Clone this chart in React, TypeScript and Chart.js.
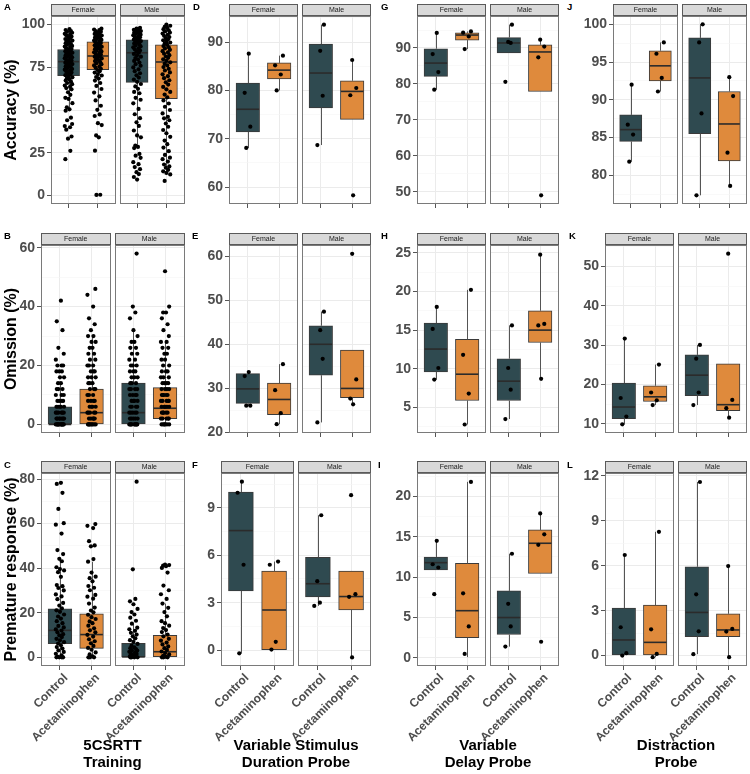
import React, { useEffect, useRef } from 'react';
import { Chart, registerables } from 'chart.js';

Chart.register(...registerables);

const FONT = "'Liberation Sans', Arial, Helvetica, sans-serif";
Chart.defaults.font.family = FONT;

// ---------------- text ----------------
const SEXES = ['Female', 'Male'];
const TREATMENTS = ['Control', 'Acetaminophen'];
const ROW_TITLES = ['Accuracy (%)', 'Omission (%)', 'Premature response (%)'];
const COLUMN_TITLES = [
  ['5CSRTT', 'Training'],
  ['Variable Stimulus', 'Duration Probe'],
  ['Variable', 'Delay Probe'],
  ['Distraction', 'Probe'],
];

// ---------------- axis ranges & major ticks ----------------
const A_RANGE = [-5, 105];
const A_TICKS = [0, 25, 50, 75, 100];
const B_RANGE = [-2.9, 60.9];
const B_TICKS = [0, 20, 40, 60];
const C_RANGE = [-3.9, 82.7];
const C_TICKS = [0, 20, 40, 60, 80];
const D_RANGE = [56.5, 95.4];
const D_TICKS = [60, 70, 80, 90];
const E_RANGE = [19.9, 62.5];
const E_TICKS = [20, 30, 40, 50, 60];
const F_RANGE = [-1.0, 11.2];
const F_TICKS = [0, 3, 6, 9];
const G_RANGE = [46.6, 98.9];
const G_TICKS = [50, 60, 70, 80, 90];
const H_RANGE = [1.7, 26.0];
const H_TICKS = [5, 10, 15, 20, 25];
const I_RANGE = [-1.0, 22.9];
const I_TICKS = [0, 5, 10, 15, 20];
const J_RANGE = [76.2, 101.1];
const J_TICKS = [80, 85, 90, 95, 100];
const K_RANGE = [7.7, 55.5];
const K_TICKS = [10, 20, 30, 40, 50];
const L_RANGE = [-0.7, 12.2];
const L_TICKS = [0, 3, 6, 9, 12];

// ---------------- box statistics ----------------
// [lower whisker, Q1, median, Q3, upper whisker] for
// Female-Control, Female-Acetaminophen, Male-Control, Male-Acetaminophen
const A_BOXES = [[49.6, 70.1, 78.3, 85.4, 97.4], [50.1, 73.6, 81.6, 89.9, 97.6], [29.2, 66.2, 83.5, 91.1, 98.0], [12.3, 56.7, 78.1, 88.2, 100.0]];
const B_BOXES = [[0, 0, 0, 6, 14], [0, 0, 4, 12, 30], [0, 0, 4, 14, 32], [0, 2, 5.5, 12.5, 28]];
const C_BOXES = [[0, 6.1, 12.1, 21.7, 44.2], [0, 4.0, 10.2, 19.5, 42.9], [0, 0, 0.2, 6.3, 15.1], [0, 0.3, 2.5, 9.9, 24.1]];
const D_BOXES = [[68.1, 71.4, 76.1, 81.5, 87.6], [80.0, 82.4, 84.2, 85.7, 87.2], [68.7, 76.4, 83.6, 89.6, 93.6], [74.0, 74.0, 79.8, 82.0, 86.3]];
const E_BOXES = [[26.0, 26.6, 29.9, 33.35, 33.8], [21.9, 24.05, 27.5, 31.2, 35.5], [22.3, 33.0, 40.0, 44.2, 47.4], [26.4, 27.9, 30.0, 38.7, 38.7]];
const F_BOXES = [[-0.2, 3.75, 7.56, 10.0, 10.65], [0.04, 0.04, 2.54, 5.0, 5.6], [2.8, 3.37, 4.2, 5.87, 8.53], [-0.46, 2.54, 3.39, 5.0, 5.0]];
const G_BOXES = [[78.4, 82.1, 85.8, 89.8, 94.2], [89.7, 92.2, 93.6, 94.2, 94.6], [88.6, 88.6, 91.4, 92.9, 96.5], [77.9, 77.9, 88.9, 90.9, 92.3]];
const H_BOXES = [[8.6, 9.6, 12.55, 15.9, 18.0], [2.8, 5.9, 9.3, 13.8, 20.2], [3.5, 5.9, 8.4, 11.3, 15.6], [8.7, 13.4, 15.0, 17.5, 24.75]];
const I_BOXES = [[10.9, 10.9, 11.8, 12.5, 14.5], [0.1, 2.5, 5.85, 11.7, 21.8], [1.4, 2.9, 5.0, 8.3, 12.9], [10.45, 10.45, 14.2, 15.85, 17.9]];
const J_BOXES = [[81.8, 84.5, 86.05, 88.0, 92.0], [91.1, 92.5, 94.5, 96.5, 97.6], [77.35, 85.5, 92.9, 98.2, 100.0], [78.6, 81.9, 86.8, 91.1, 93.0]];
const K_BOXES = [[9.9, 11.35, 14.3, 20.4, 31.7], [14.8, 15.7, 16.9, 19.7, 25.1], [14.8, 17.2, 22.4, 27.55, 30.1], [11.6, 13.4, 14.9, 25.3, 25.3]];
const L_BOXES = [[0, 0, 1.04, 3.17, 6.72], [-0.11, 0, 0.88, 3.37, 8.27], [0.09, 1.26, 2.88, 5.93, 11.6], [-0.11, 1.26, 1.71, 2.79, 5.98]];

// ---------------- individual animals (points) ----------------
const A_FC = [97.4, 96.8, 96.1, 95.9, 95.2, 94.6, 94.1, 93.8, 93.0, 92.7, 92.2, 91.5, 91.1, 90.6, 90.0, 89.7, 89.1, 88.6, 88.2, 87.5, 87.1, 86.8, 86.2, 85.7, 85.3, 84.9, 84.4, 83.8, 83.5, 83.0, 82.6, 82.1, 81.7, 81.2, 80.8, 80.3, 79.9, 79.4, 79.0, 78.6, 78.1, 77.7, 77.2, 76.9, 76.3, 75.8, 75.5, 74.9, 74.4, 74.0, 73.6, 73.1, 72.5, 72.0, 71.6, 70.9, 70.4, 69.8, 69.1, 68.5, 67.9, 67.2, 66.6, 65.8, 65.1, 64.3, 63.6, 62.8, 62.1, 60.4, 58.9, 57.1, 56.5, 54.0, 51.6, 50.4, 49.6, 45.5, 44.0, 41.8, 40.6, 39.9, 38.5, 34.5, 33.2, 26.1, 21.2];
const A_FA = [97.6, 97.1, 96.7, 96.2, 95.8, 95.3, 95.0, 94.5, 94.1, 93.6, 93.2, 92.8, 92.3, 91.9, 91.4, 91.0, 90.6, 90.1, 89.7, 89.2, 88.8, 88.3, 87.9, 87.4, 87.0, 86.5, 86.1, 85.6, 85.2, 84.7, 84.3, 83.8, 83.4, 82.9, 82.5, 82.0, 81.6, 81.1, 80.6, 80.2, 79.7, 79.1, 78.6, 78.0, 77.4, 76.8, 76.1, 75.5, 74.8, 74.1, 73.4, 72.6, 71.9, 71.0, 70.2, 69.3, 68.4, 67.2, 65.8, 64.1, 62.3, 60.2, 58.0, 55.6, 52.5, 50.1, 47.4, 46.5, 42.3, 41.2, 35.1, 34.0, 26.2, 0.4, 0.3];
const A_MC = [98.0, 97.6, 97.3, 96.9, 96.6, 96.2, 95.9, 95.5, 95.2, 94.8, 94.4, 94.1, 93.7, 93.3, 92.9, 92.5, 92.1, 91.7, 91.2, 90.8, 90.3, 89.8, 89.4, 88.9, 88.3, 87.8, 87.2, 86.7, 86.1, 85.5, 84.8, 84.1, 83.5, 82.8, 82.0, 81.2, 80.4, 79.6, 78.7, 77.8, 76.8, 75.9, 74.9, 73.8, 72.7, 71.5, 70.3, 69.0, 67.8, 66.5, 65.2, 63.8, 62.4, 60.6, 59.8, 57.1, 56.0, 53.9, 50.6, 47.5, 45.2, 42.8, 40.7, 38.0, 35.1, 34.0, 29.2, 28.4, 27.7, 24.3, 23.3, 22.0, 19.5, 18.3, 16.6, 15.4, 13.6, 12.5, 10.8, 9.3];
const A_MA = [100.0, 99.3, 98.6, 98.0, 97.3, 96.6, 96.0, 95.3, 94.7, 94.0, 93.4, 92.7, 92.1, 91.4, 90.8, 90.1, 89.5, 88.8, 88.1, 87.4, 86.7, 86.0, 85.2, 84.4, 83.7, 82.9, 82.1, 81.3, 80.5, 79.7, 78.8, 77.9, 77.0, 76.1, 75.1, 74.1, 73.1, 72.0, 70.9, 69.8, 68.6, 67.4, 66.2, 64.9, 63.5, 62.1, 60.6, 59.0, 57.4, 55.6, 53.8, 51.9, 50.0, 48.0, 46.0, 45.1, 44.0, 42.1, 40.2, 38.3, 36.4, 34.3, 32.1, 30.0, 28.0, 25.9, 23.7, 22.1, 21.2, 19.8, 18.1, 17.0, 16.2, 15.0, 14.1, 13.2, 12.3, 8.5];

const B_FC = [42, 35, 32, 26, 24, 22, 20, 20, 20, 18, 18, 18, 16, 16, 14, 14, 12, 12, 12, 10, 10, 10, 8, 8, 8, 8, 6, 6, 6, 6, 6, 4, 4, 4, 4, 4, 4, 2, 2, 2, 2, 2, 2, 2, 0, 0, 0, 0, 0, 0, 0, 0, 0, 0, 0, 0];
const B_FA = [46, 44, 40, 36, 34, 32, 30, 30, 28, 28, 26, 26, 24, 24, 22, 22, 20, 20, 20, 18, 18, 18, 16, 16, 16, 14, 14, 14, 12, 12, 12, 10, 10, 10, 8, 8, 8, 8, 6, 6, 6, 6, 4, 4, 4, 4, 4, 2, 2, 2, 2, 2, 0, 0, 0, 0, 0, 0, 0, 0];
const B_MC = [58, 40, 38, 36, 32, 30, 28, 28, 26, 26, 24, 24, 22, 22, 20, 20, 20, 18, 18, 18, 16, 16, 16, 14, 14, 14, 12, 12, 12, 12, 10, 10, 10, 10, 8, 8, 8, 8, 6, 6, 6, 6, 4, 4, 4, 4, 4, 2, 2, 2, 2, 2, 0, 0, 0, 0, 0, 0, 0, 0, 0];
const B_MA = [52, 40, 38, 38, 36, 34, 32, 30, 28, 28, 26, 26, 24, 24, 22, 22, 20, 20, 18, 18, 18, 16, 16, 16, 14, 14, 14, 14, 12, 12, 12, 12, 10, 10, 10, 10, 10, 8, 8, 8, 8, 8, 6, 6, 6, 6, 6, 4, 4, 4, 4, 4, 2, 2, 2, 2, 2, 0, 0, 0, 0, 0, 0];

const C_FC = [78.3, 77.8, 73.8, 66.6, 60.2, 59.5, 55.5, 48.1, 46.3, 44.2, 43.1, 40.4, 39.6, 39.0, 38.2, 36.1, 32.4, 31.9, 31.1, 30.0, 28.2, 27.3, 26.1, 24.4, 23.2, 22.0, 21.1, 20.4, 19.2, 18.3, 17.4, 16.2, 15.3, 14.1, 13.4, 12.5, 12.0, 11.2, 10.4, 9.8, 9.1, 8.3, 7.6, 6.8, 6.2, 5.4, 4.6, 3.9, 3.1, 2.4, 1.6, 0.9, 0.3, 0.0, 0.0, 0.0, 0.0];
const C_FA = [59.8, 59.0, 58.0, 52.1, 50.2, 49.8, 44.1, 42.9, 38.0, 36.2, 35.5, 34.1, 32.0, 31.2, 30.1, 28.0, 27.2, 26.3, 24.1, 22.3, 21.0, 20.2, 19.1, 18.0, 17.2, 16.1, 15.3, 14.2, 13.0, 12.1, 11.2, 10.1, 9.3, 8.1, 7.2, 6.3, 5.1, 4.2, 3.4, 2.2, 1.3, 0.4, 0.0, 0.0, 0.0];
const C_MC = [78.8, 39.5, 26.2, 25.1, 23.8, 21.7, 20.3, 19.2, 17.8, 16.4, 15.1, 13.3, 12.6, 11.9, 11.0, 10.2, 9.4, 8.5, 7.7, 6.9, 6.0, 5.2, 4.5, 4.1, 3.7, 3.2, 3.0, 2.5, 2.2, 1.8, 1.5, 1.0, 0.8, 0.5, 0.3, 0.0, 0.0, 0.0, 0.0];
const C_MA = [41.6, 41.4, 41.2, 40.9, 40.1, 38.0, 32.2, 30.1, 28.3, 26.2, 24.1, 22.2, 20.3, 18.4, 16.2, 15.3, 14.2, 13.1, 12.2, 11.3, 10.2, 9.4, 8.3, 7.5, 6.6, 5.8, 4.9, 4.1, 3.3, 2.6, 1.9, 1.3, 0.7, 0.2, 0.0, 0.0, 0.0];

const D_FC = [87.6, 79.5, 72.5, 68.1];
const D_FA = [87.2, 85.2, 83.3, 80.0];
const D_MC = [93.6, 88.2, 78.9, 68.7];
const D_MA = [86.3, 80.5, 79.0, 58.3];
const E_FC = [33.7, 32.8, 26.1, 26.1];
const E_FA = [35.5, 29.6, 24.4, 21.9];
const E_MC = [47.4, 43.2, 36.7, 22.3];
const E_MA = [60.5, 32.05, 27.7, 26.4];
const F_FC = [10.65, 9.95, 5.4, -0.2];
const F_FA = [5.6, 5.4, 0.53, 0.04];
const F_MC = [8.53, 4.36, 3.0, 2.8];
const F_MA = [9.8, 3.54, 3.37, -0.46];
const G_FC = [94.2, 88.3, 83.3, 78.4];
const G_FA = [94.6, 94.25, 93.2, 89.7];
const G_MC = [96.5, 91.7, 91.4, 80.6];
const G_MA = [92.3, 90.4, 87.4, 49.0];
const H_FC = [18.0, 15.15, 10.1, 8.6];
const H_FA = [20.2, 11.8, 6.8, 2.8];
const H_MC = [15.6, 10.1, 7.3, 3.5];
const H_MA = [24.75, 15.8, 15.6, 8.7];
const I_FC = [14.5, 11.6, 11.2, 7.9];
const I_FA = [21.8, 8.0, 3.9, 0.5];
const I_MC = [12.9, 6.7, 3.9, 1.4];
const I_MA = [17.9, 15.3, 14.0, 2.0];
const J_FC = [92.0, 86.7, 85.4, 81.8];
const J_FA = [97.6, 96.1, 92.9, 91.1];
const J_MC = [100.0, 97.6, 88.2, 77.35];
const J_MA = [93.0, 90.5, 83.0, 78.6];
const K_FC = [31.7, 16.6, 11.9, 9.9];
const K_FA = [25.1, 18.0, 16.0, 14.8];
const K_MC = [30.1, 26.6, 18.0, 14.8];
const K_MA = [53.3, 16.1, 14.0, 11.6];
const L_FC = [6.72, 1.89, 0.16, 0.0];
const L_FA = [8.27, 1.75, 0.11, -0.11];
const L_MC = [11.6, 4.09, 1.62, 0.09];
const L_MA = [5.98, 1.78, 1.6, -0.11];

// ---------------- panels ----------------
type Panel = {
  letter: string; row: number; col: number;
  range: number[]; ticks: number[]; boxes: number[][]; points: number[][];
};
const PANELS: Panel[] = [
  { letter: 'A', row: 0, col: 0, range: A_RANGE, ticks: A_TICKS, boxes: A_BOXES, points: [A_FC, A_FA, A_MC, A_MA] },
  { letter: 'B', row: 1, col: 0, range: B_RANGE, ticks: B_TICKS, boxes: B_BOXES, points: [B_FC, B_FA, B_MC, B_MA] },
  { letter: 'C', row: 2, col: 0, range: C_RANGE, ticks: C_TICKS, boxes: C_BOXES, points: [C_FC, C_FA, C_MC, C_MA] },
  { letter: 'D', row: 0, col: 1, range: D_RANGE, ticks: D_TICKS, boxes: D_BOXES, points: [D_FC, D_FA, D_MC, D_MA] },
  { letter: 'E', row: 1, col: 1, range: E_RANGE, ticks: E_TICKS, boxes: E_BOXES, points: [E_FC, E_FA, E_MC, E_MA] },
  { letter: 'F', row: 2, col: 1, range: F_RANGE, ticks: F_TICKS, boxes: F_BOXES, points: [F_FC, F_FA, F_MC, F_MA] },
  { letter: 'G', row: 0, col: 2, range: G_RANGE, ticks: G_TICKS, boxes: G_BOXES, points: [G_FC, G_FA, G_MC, G_MA] },
  { letter: 'H', row: 1, col: 2, range: H_RANGE, ticks: H_TICKS, boxes: H_BOXES, points: [H_FC, H_FA, H_MC, H_MA] },
  { letter: 'I', row: 2, col: 2, range: I_RANGE, ticks: I_TICKS, boxes: I_BOXES, points: [I_FC, I_FA, I_MC, I_MA] },
  { letter: 'J', row: 0, col: 3, range: J_RANGE, ticks: J_TICKS, boxes: J_BOXES, points: [J_FC, J_FA, J_MC, J_MA] },
  { letter: 'K', row: 1, col: 3, range: K_RANGE, ticks: K_TICKS, boxes: K_BOXES, points: [K_FC, K_FA, K_MC, K_MA] },
  { letter: 'L', row: 2, col: 3, range: L_RANGE, ticks: L_TICKS, boxes: L_BOXES, points: [L_FC, L_FA, L_MC, L_MA] },
];

// ---------------- layout (pixels) ----------------
const ROW_Y = [[16, 204], [245, 433], [473, 666]];
const PANEL_X: Record<string, number[]> = {
  A: [51, 184], B: [41, 184], C: [41, 184],
  D: [229, 371], E: [229, 371], F: [221, 371],
  G: [417, 559], H: [417, 559], I: [417, 559],
  J: [613, 747], K: [605, 747], L: [605, 747],
};
const LETTER_POS: Record<string, number[]> = {
  A: [4, 3], D: [193, 3], G: [381, 3], J: [567, 3],
  B: [4, 232], E: [192, 232], H: [381, 232], K: [569, 232],
  C: [4, 461], F: [192, 461], I: [378, 461], L: [567, 461],
};
const FACET_GAP = 4;
const STRIP_H = 12;
const BOX_WIDTH_UNITS = 0.75;

// ---------------- styles ----------------
const CONTROL_FILL = '#2f4a50';
const ACET_FILL = '#df8a3c';
const BOX_LINE = '#3a3a3a';
const WHISKER = '#555555';
const MEDIAN = '#2b2b2b';
const GRID_MAJOR = '#ebebeb';
const GRID_MINOR = '#f5f5f5';
const TICK_TEXT = '#4d4d4d';
const TICK_MARK = '#555555';
const PANEL_BORDER = '#7a7a7a';
const STRIP_FILL = '#d9d9d9';
const STRIP_LINE = '#5a5a5a';
const JITTER = [0.03, -0.1, 0.08, -0.05, 0.12, -0.13, 0.05, -0.08, 0.1, -0.02, 0.06, -0.11, 0.0, 0.13, -0.06];

function minorTicks(majors: number[], lo: number, hi: number) {
  const d = majors[1] - majors[0];
  const ext = [majors[0] - d, ...majors, majors[majors.length - 1] + d];
  const out: number[] = [];
  for (let i = 0; i + 1 < ext.length; i++) {
    const m = (ext[i] + ext[i + 1]) / 2;
    if (m >= lo && m <= hi) out.push(m);
  }
  return out;
}

const boxExtras = {
  id: 'boxExtras',
  afterDatasetDraw(chart: any, args: any, o: any) {
    if (args.meta.type !== 'bar') return;
    const { ctx, scales } = chart;
    const y = scales.y;
    ctx.save();
    args.meta.data.forEach((bar: any, i: number) => {
      const [wl, q1, med, q3, wh] = o.stats[i];
      const cx = Math.round(bar.x) + 0.5;
      const half = bar.width / 2;
      ctx.strokeStyle = WHISKER;
      ctx.lineWidth = 1;
      ctx.beginPath();
      if (wh > q3) { ctx.moveTo(cx, y.getPixelForValue(q3)); ctx.lineTo(cx, y.getPixelForValue(wh)); }
      if (wl < q1) { ctx.moveTo(cx, y.getPixelForValue(q1)); ctx.lineTo(cx, y.getPixelForValue(wl)); }
      ctx.stroke();
      const my = y.getPixelForValue(med);
      ctx.strokeStyle = MEDIAN;
      ctx.lineWidth = 1.6;
      ctx.beginPath();
      ctx.moveTo(bar.x - half + 0.5, my);
      ctx.lineTo(bar.x + half - 0.5, my);
      ctx.stroke();
    });
    ctx.restore();
  },
};

const facetDeco = {
  id: 'facetDeco',
  beforeDatasetsDraw(chart: any, _args: any, o: any) {
    const { ctx, chartArea: a, scales } = chart;
    const x = scales.x;
    const f1r = x.getPixelForValue(2.6);
    const f2l = x.getPixelForValue(2.6 + o.gapU);
    ctx.save();
    ctx.fillStyle = '#ffffff';
    ctx.fillRect(f1r, a.top - 1, f2l - f1r, a.bottom - a.top + 2);
    const facets = [[a.left, f1r], [f2l, a.right]];
    facets.forEach(([l, r], i) => {
      ctx.strokeStyle = PANEL_BORDER;
      ctx.lineWidth = 1;
      ctx.strokeRect(Math.round(l) + 0.5, a.top + 0.5, Math.round(r - l) - 1, a.bottom - a.top - 1);
      ctx.fillStyle = STRIP_FILL;
      ctx.fillRect(Math.round(l), a.top - STRIP_H, Math.round(r - l), STRIP_H);
      ctx.strokeStyle = STRIP_LINE;
      ctx.strokeRect(Math.round(l) + 0.5, a.top - STRIP_H + 0.5, Math.round(r - l) - 1, STRIP_H - 1);
      ctx.fillStyle = '#1a1a1a';
      ctx.font = `7px ${FONT}`;
      ctx.textAlign = 'center';
      ctx.textBaseline = 'middle';
      ctx.fillText(SEXES[i], (l + r) / 2, a.top - STRIP_H / 2 + 0.5);
    });
    ctx.restore();
  },
};

function PanelChart({ p }: { p: Panel }) {
  const ref = useRef<HTMLCanvasElement | null>(null);
  const [pl, pr] = PANEL_X[p.letter];
  const [pt, pb] = ROW_Y[p.row];
  const cLeft = p.col === 0 ? 0 : pl - 40;
  const cTop = pt - 15;
  const cRight = pr + 3;
  const cBottom = p.row === 2 ? 774 : pb + 8;
  const W = cRight - cLeft;
  const H = cBottom - cTop;

  useEffect(() => {
    if (!ref.current) return;
    const facetPx = (pr - pl - FACET_GAP) / 2;
    const unit = facetPx / 2.2;
    const gapU = FACET_GAP / unit;
    const xMax = 0.4 + 4.4 + gapU;
    const pos = [1, 2, 3.2 + gapU, 4.2 + gapU];
    const majors = p.ticks;
    const minors = minorTicks(majors, p.range[0], p.range[1]);
    const allY = [...majors, ...minors].sort((a, b) => a - b);
    const isMajor = (v: number) => majors.some((m) => Math.abs(m - v) < 1e-9);
    const pts: { x: number; y: number }[] = [];
    p.points.forEach((arr, g) =>
      arr.forEach((v, i) => pts.push({ x: pos[g] + JITTER[(i + g * 4) % JITTER.length], y: v }))
    );
    const xAxisH = cBottom - pb;
    const yAxisW = pl - cLeft;

    const chart = new Chart(ref.current, {
      type: 'bar',
      data: {
        datasets: [
          {
            type: 'scatter',
            data: pts,
            pointRadius: 2.1,
            pointHoverRadius: 2.1,
            pointBackgroundColor: '#000000',
            pointBorderWidth: 0,
            order: 1,
          } as any,
          {
            type: 'bar',
            data: p.boxes.map((b, i) => ({ x: pos[i], y: [b[1], b[3]] })),
            backgroundColor: [CONTROL_FILL, ACET_FILL, CONTROL_FILL, ACET_FILL],
            borderColor: BOX_LINE,
            borderWidth: 1,
            borderSkipped: false,
            grouped: false,
            barThickness: unit * BOX_WIDTH_UNITS,
            order: 2,
          } as any,
        ],
      },
      options: {
        responsive: false,
        animation: false,
        events: [],
        layout: { padding: { top: 15, right: 3, left: 0, bottom: 0 }, autoPadding: false },
        plugins: {
          legend: { display: false },
          tooltip: { enabled: false },
          boxExtras: { stats: p.boxes },
          facetDeco: { gapU },
        } as any,
        scales: {
          x: {
            type: 'linear',
            min: 0.4,
            max: xMax,
            offset: false,
            afterBuildTicks: (s: any) => { s.ticks = pos.map((v) => ({ value: v })); },
            afterFit: (s: any) => {
              s.height = xAxisH;
              s.paddingLeft = 0; s.paddingRight = 0; s.paddingTop = 0; s.paddingBottom = 0;
            },
            ticks: {
              display: p.row === 2,
              autoSkip: false,
              minRotation: 45,
              maxRotation: 45,
              padding: 1,
              labelOffset: 6,
              color: TICK_TEXT,
              font: { family: FONT, size: 12, weight: 'bold' },
              callback: (_v: any, i: number) => TREATMENTS[i % 2],
            },
            grid: { offset: false, color: GRID_MAJOR, lineWidth: 1, drawTicks: true, tickLength: 4, tickColor: TICK_MARK },
            border: { display: false },
            title: p.row === 2
              ? { display: true, text: COLUMN_TITLES[p.col], color: '#000000', font: { family: FONT, size: 15, weight: 'bold', lineHeight: 1.1 }, padding: { top: 0, bottom: 3 } }
              : { display: false },
          } as any,
          y: {
            type: 'linear',
            min: p.range[0],
            max: p.range[1],
            afterBuildTicks: (s: any) => { s.ticks = allY.map((v) => ({ value: v })); },
            afterFit: (s: any) => {
              s.width = yAxisW;
              s.paddingLeft = 0; s.paddingRight = 0; s.paddingTop = 0; s.paddingBottom = 0;
            },
            ticks: {
              autoSkip: false,
              padding: 2,
              color: TICK_TEXT,
              font: { family: FONT, size: 14, weight: 'bold' },
              callback: (v: any) => (isMajor(v) ? String(v) : ''),
            },
            grid: {
              color: (c: any) => (c.tick && isMajor(c.tick.value) ? GRID_MAJOR : GRID_MINOR),
              lineWidth: (c: any) => (c.tick && isMajor(c.tick.value) ? 1 : 0.6),
              drawTicks: true,
              tickLength: 4,
              tickColor: (c: any) => (c.tick && isMajor(c.tick.value) ? TICK_MARK : 'rgba(0,0,0,0)'),
            },
            border: { display: false },
            title: p.col === 0
              ? { display: true, text: ROW_TITLES[p.row], color: '#000000', font: { family: FONT, size: 16, weight: 'bold' }, padding: { top: 2, bottom: 0 } }
              : { display: false },
          } as any,
        },
      },
      plugins: [boxExtras, facetDeco],
    } as any);
    return () => chart.destroy();
  }, []);

  return (
    <canvas
      ref={ref}
      width={W}
      height={H}
      style={{ position: 'absolute', left: cLeft, top: cTop, width: W, height: H }}
    />
  );
}

export default function App() {
  return (
    <div
      style={{
        position: 'absolute', left: 0, top: 0, width: 750, height: 774,
        background: '#ffffff', overflow: 'hidden', fontFamily: FONT,
      }}
    >
      {PANELS.map((p) => (
        <PanelChart key={p.letter} p={p} />
      ))}
      {PANELS.map((p) => (
        <div
          key={'l' + p.letter}
          style={{
            position: 'absolute', left: LETTER_POS[p.letter][0], top: LETTER_POS[p.letter][1] - 1.3,
            fontSize: 9.5, fontWeight: 'bold', lineHeight: 1, color: '#000000',
          }}
        >
          {p.letter}
        </div>
      ))}
    </div>
  );
}
